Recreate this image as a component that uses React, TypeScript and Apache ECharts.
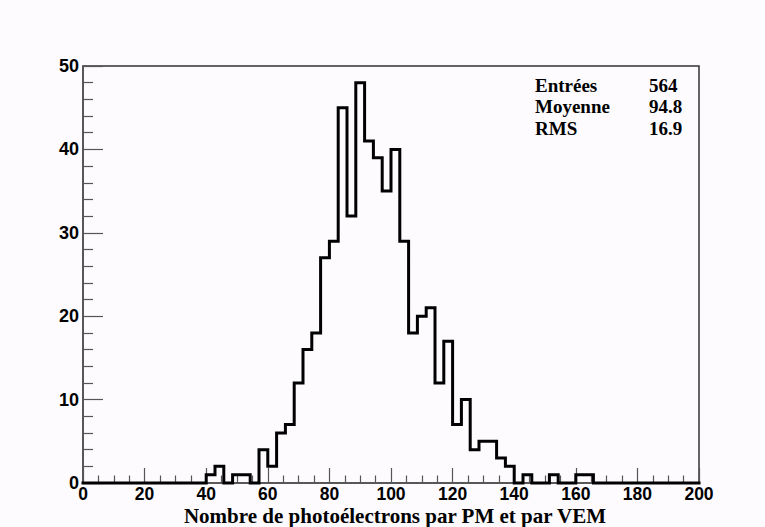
import { useEffect, useRef } from 'react';
import * as echarts from 'echarts';

// Histogram range and bin contents (70 bins between 0 and 200)
const xMin = 0;
const xMax = 200;
const counts: number[] = [
  0, 0, 0, 0, 0, 0, 0, 0, 0, 0, 0, 0, 0, 0,
  1, 2, 0, 1, 1, 0, 4, 2, 6, 7, 12, 16, 18, 27, 29, 45,
  32, 48, 41, 39, 35, 40, 29, 18, 20, 21, 12, 17, 7, 10,
  4, 5, 5, 3, 2, 0, 1, 0, 0, 1, 0, 0, 1, 1,
  0, 0, 0, 0, 0, 0, 0, 0, 0, 0, 0, 0,
];
const yMin = 0;
const yMax = 50;
const xInterval = 20;
const yInterval = 10;

const statLabels = ['Entrées', 'Moyenne', 'RMS'];
const statValues = ['564', '94.8', '16.9'];
const xTitle = 'Nombre de photoélectrons par PM et par VEM';

const SANS = '"Liberation Sans", Arial, Helvetica, sans-serif';
const SERIF = '"Liberation Serif", "Times New Roman", Times, serif';

export default function App() {
  const ref = useRef<HTMLDivElement>(null);

  useEffect(() => {
    if (!ref.current) return;
    const chart = echarts.init(ref.current, null, { renderer: 'svg' });
    const w = (xMax - xMin) / counts.length;
    const pts: number[][] = [[xMin, 0]];
    counts.forEach((c, i) => {
      pts.push([xMin + i * w, c]);
      pts.push([xMin + (i + 1) * w, c]);
    });
    pts.push([xMax, 0]);

    const statGraphics: any[] = [];
    statLabels.forEach((lab, i) => {
      const y = 85 + i * 21.5;
      statGraphics.push({
        type: 'text',
        x: 535,
        y,
        style: { text: lab, font: `bold 19px ${SERIF}`, fill: '#000', align: 'left', verticalAlign: 'middle' },
      });
      statGraphics.push({
        type: 'text',
        x: 649,
        y,
        style: { text: statValues[i], font: `bold 19px ${SERIF}`, fill: '#000', align: 'left', verticalAlign: 'middle' },
      });
    });

    chart.setOption({
      animation: false,
      backgroundColor: '#fdfbfe',
      grid: {
        left: 83,
        right: 66,
        top: 66,
        bottom: 44,
        show: true,
        borderColor: '#333',
        borderWidth: 1.5,
        backgroundColor: 'transparent',
      },
      xAxis: {
        type: 'value',
        min: xMin,
        max: xMax,
        interval: xInterval,
        axisLine: { show: true, lineStyle: { color: '#555', width: 1.5 } },
        axisTick: { show: true, inside: true, length: 15, lineStyle: { color: '#555', width: 1.2 } },
        minorTick: { show: true, splitNumber: 4, length: 7.5, lineStyle: { color: '#555', width: 1.2 } },
        splitLine: { show: false },
        axisLabel: {
          color: '#000',
          fontFamily: SANS,
          fontWeight: 'bold',
          fontSize: 17.5,
          margin: 2,
          lineHeight: 17,
        },
      },
      yAxis: {
        type: 'value',
        min: yMin,
        max: yMax,
        interval: yInterval,
        axisLine: { show: true, lineStyle: { color: '#555', width: 1.5 } },
        axisTick: { show: true, inside: true, length: 20, lineStyle: { color: '#555', width: 1.2 } },
        minorTick: { show: true, splitNumber: 5, length: 10, lineStyle: { color: '#555', width: 1.2 } },
        splitLine: { show: false },
        axisLabel: {
          color: '#000',
          fontFamily: SANS,
          fontWeight: 'bold',
          fontSize: 18,
          margin: 4,
        },
      },
      series: [
        {
          type: 'line',
          data: pts,
          showSymbol: false,
          symbol: 'none',
          clip: false,
          lineStyle: { color: '#000', width: 3, join: 'miter', cap: 'square' },
          silent: true,
        },
      ],
      graphic: [
        ...statGraphics,
        {
          type: 'text',
          x: 395,
          y: 515.5,
          style: {
            text: xTitle,
            font: `bold 21px ${SERIF}`,
            fill: '#000',
            align: 'center',
            verticalAlign: 'middle',
            lineHeight: 19,
          },
        },
      ],
    });
    return () => chart.dispose();
  }, []);

  return (
    <div
      ref={ref}
      style={{ position: 'fixed', left: 0, top: 0, width: 765, height: 527 }}
    />
  );
}
